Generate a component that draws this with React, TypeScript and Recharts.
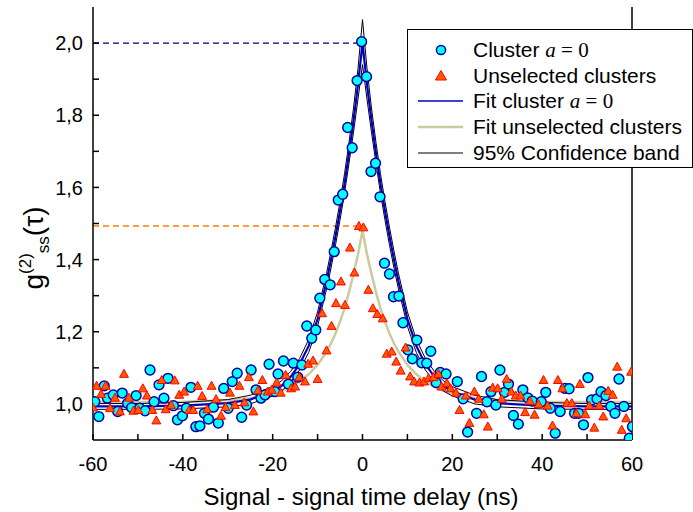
import { ComposedChart, Line, Scatter, XAxis, YAxis, ReferenceLine } from 'recharts'

// cluster a = 0 (circles), delay in ns and g2 value
const clusterT = [
  -59.6, -58.7, -57.5, -56.8, -55.5, -54.5, -53.5, -52.3, -51.4, -50.4, -49.6, -48.4, -47.3, -46.4, -45.3, -44.2,
  -43.3, -42.1, -41.2, -40.1, -39.2, -38.2, -37.1, -36.2, -35.2, -34.3, -33.2, -32.1, -30.9, -29.9, -29.0, -27.9,
  -26.9, -25.8, -24.8, -23.7, -22.6, -21.7, -20.8, -19.5, -18.8, -17.6, -16.5, -15.4, -14.4, -13.5, -12.4, -11.3,
  -10.4, -9.5, -8.4, -7.2, -6.3, -5.4, -4.4, -3.3, -2.3, -1.2, -0.2, 0.9, 1.9, 2.9, 3.9, 4.9, 6.0, 6.9, 8.1, 9.0,
  10.1, 11.1, 12.1, 13.2, 14.3, 15.2, 16.4, 17.3, 18.6, 21.1, 22.4, 23.4, 25.4, 26.5, 27.7, 28.6, 29.7, 30.6, 31.6,
  32.5, 33.6, 34.7, 35.7, 36.8, 37.8, 39.8, 40.8, 41.8, 42.9, 44.0, 45.1, 46.0, 47.2, 48.1, 49.2, 50.2, 51.0, 52.2,
  53.1, 54.2, 55.3, 56.2, 57.1, 58.2, 59.4, 60.1,
]
const clusterG = [
  1.006, 0.965, 1.05, 1.016, 1.025, 0.979, 1.03, 1.002, 0.99, 1.023, 0.988, 0.981, 1.094, 1.006, 1.053, 1.016,
  1.071, 0.995, 0.956, 0.967, 0.988, 1.046, 0.937, 0.939, 0.974, 0.958, 0.991, 0.947, 1.043, 0.988, 1.062, 1.085,
  0.963, 0.997, 1.094, 1.039, 1.016, 1.025, 1.11, 1.034, 1.083, 1.119, 1.055, 1.113, 1.074, 1.108, 1.216, 1.182,
  1.205, 1.293, 1.345, 1.33, 1.422, 1.565, 1.581, 1.766, 1.71, 1.896, 2.004, 1.907, 1.644, 1.667, 1.574, 1.39, 1.36,
  1.297, 1.299, 1.225, 1.15, 1.125, 1.177, 1.114, 1.113, 1.146, 1.059, 1.087, 1.083, 1.062, 1.014, 0.922, 0.974,
  1.076, 1.006, 1.034, 0.997, 1.094, 1.032, 1.055, 0.968, 0.944, 1.039, 1.017, 1.008, 1.006, 1.032, 0.988, 0.919,
  0.979, 1.043, 1.042, 0.974, 0.974, 0.942, 1.073, 1.011, 1.014, 1.034, 1.023, 0.993, 0.974, 1.069, 0.993, 0.905,
  0.937,
]

// unselected clusters (triangles)
const unselT = [
  -60.0, -59.2, -58.2, -57.2, -56.2, -55.1, -54.0, -53.1, -52.0, -51.0, -49.9, -48.9, -48.0, -46.8, -45.9, -44.7,
  -43.8, -42.6, -41.8, -40.8, -39.7, -38.6, -37.7, -36.7, -35.7, -34.6, -33.6, -32.6, -31.5, -30.5, -29.5, -28.4,
  -27.4, -26.3, -25.3, -24.3, -23.3, -22.3, -21.1, -20.2, -19.1, -18.2, -17.1, -15.9, -15.0, -14.1, -12.8, -12.1,
  -11.0, -10.0, -9.0, -8.0, -6.9, -5.9, -4.8, -3.9, -2.8, -1.8, -0.8, 0.2, 1.3, 2.3, 3.3, 4.5, 5.4, 6.5, 7.5, 8.5,
  9.6, 10.6, 11.5, 12.7, 13.7, 14.7, 15.8, 16.9, 17.6, 18.8, 19.6, 20.8, 21.6, 23.0, 23.8, 24.9, 25.9, 27.0, 27.9,
  29.0, 30.1, 31.0, 32.1, 33.1, 34.1, 35.2, 36.2, 37.3, 38.3, 39.2, 40.3, 41.2, 42.3, 43.5, 44.5, 45.5, 46.6, 47.6,
  48.4, 49.6, 50.5, 51.6, 52.7, 53.6, 54.7, 55.7, 56.7, 57.7, 58.7, 59.8,
]
const unselG = [
  0.99, 1.05, 1.027, 1.05, 0.988, 1.017, 0.979, 1.083, 1.017, 0.981, 0.983, 1.043, 1.023, 0.983, 0.954, 1.066,
  0.985, 0.997, 1.065, 1.025, 1.034, 0.983, 0.983, 1.05, 1.022, 0.985, 1.05, 1.013, 0.967, 0.991, 1.031, 0.997,
  1.05, 1.004, 1.074, 0.979, 1.037, 1.066, 1.034, 1.039, 1.059, 1.031, 1.08, 1.043, 1.048, 1.074, 1.062, 1.111,
  1.12, 1.069, 1.251, 1.148, 1.216, 1.279, 1.339, 1.274, 1.433, 1.364, 1.493, 1.489, 1.316, 1.265, 1.249, 1.237,
  1.139, 1.145, 1.117, 1.092, 1.156, 1.076, 1.062, 1.059, 1.062, 1.071, 1.074, 1.083, 1.048, 1.057, 1.043, 1.031,
  0.983, 1.023, 0.947, 1.034, 1.014, 0.971, 0.937, 1.045, 1.043, 1.014, 1.069, 1.034, 1.023, 1.023, 0.977, 1.008,
  0.97, 0.999, 1.066, 0.995, 0.94, 1.066, 1.043, 1.002, 1.002, 0.974, 1.055, 0.971, 0.995, 0.934, 0.995, 0.965,
  1.036, 1.025, 1.103, 0.928, 0.96, 1.089,
]

// fit curves
const fitT = [
  -60, -50, -40, -30, -25, -20, -18, -16, -14, -12, -10, -8, -7, -6, -5, -4, -3, -2, -1, 0,
  1, 2, 3, 4, 5, 6, 7, 8, 10, 12, 14, 16, 18, 20, 25, 30, 40, 50, 60,
]
const fitCluster = [
  0.993, 0.993, 0.995, 1.002, 1.012, 1.035, 1.05, 1.075, 1.11, 1.16, 1.235, 1.34, 1.4, 1.465, 1.535, 1.61, 1.695,
  1.785, 1.885, 2.0, 1.885, 1.785, 1.695, 1.61, 1.535, 1.465, 1.4, 1.34, 1.235, 1.16, 1.11, 1.075, 1.05, 1.035,
  1.012, 1.002, 0.995, 0.993, 0.993,
]
const bandHi = [
  1.001, 1.001, 1.004, 1.012, 1.024, 1.048, 1.064, 1.09, 1.126, 1.178, 1.255, 1.362, 1.424, 1.49, 1.561, 1.638,
  1.725, 1.82, 1.93, 2.065, 1.93, 1.82, 1.725, 1.638, 1.561, 1.49, 1.424, 1.362, 1.255, 1.178, 1.126, 1.09, 1.064,
  1.048, 1.024, 1.012, 1.004, 1.001, 1.001,
]
const bandLo = [
  0.985, 0.985, 0.986, 0.992, 1.0, 1.022, 1.036, 1.06, 1.094, 1.142, 1.215, 1.319, 1.377, 1.441, 1.51, 1.584, 1.667,
  1.753, 1.845, 1.94, 1.845, 1.753, 1.667, 1.584, 1.51, 1.441, 1.377, 1.319, 1.215, 1.142, 1.094, 1.06, 1.036,
  1.022, 1.0, 0.992, 0.986, 0.985, 0.985,
]
const fitUnsel = [
  1.005, 1.005, 1.006, 1.01, 1.016, 1.028, 1.036, 1.047, 1.062, 1.082, 1.108, 1.145, 1.168, 1.195, 1.228, 1.265,
  1.31, 1.36, 1.415, 1.48, 1.415, 1.36, 1.31, 1.265, 1.228, 1.195, 1.168, 1.145, 1.108, 1.082, 1.062, 1.047, 1.036,
  1.028, 1.016, 1.01, 1.006, 1.005, 1.005,
]

const peakCluster = 2.0
const peakUnsel = 1.493

const xTicks = [-60, -50, -40, -30, -20, -10, 0, 10, 20, 30, 40, 50, 60]
const yTicks = [1.0, 1.1, 1.2, 1.3, 1.4, 1.5, 1.6, 1.7, 1.8, 1.9, 2.0]

const clusterData = clusterT.map((t, i) => ({ t, g: clusterG[i] }))
const unselData = unselT.map((t, i) => ({ t, g: unselG[i] }))
const fitData = fitT.map((t, i) => ({ t, fit: fitCluster[i], hi: bandHi[i], lo: bandLo[i], un: fitUnsel[i] }))

const SANS = '"Liberation Sans", Arial, sans-serif'
const SERIF = '"Liberation Serif", "Times New Roman", serif'

const CYAN = '#00ffff'
const NAVY = '#0000a0'
const BLUE = '#0000c0'
const OLIVE = '#cbcba0'
const TRI_FILL = '#ff5a00'
const TRI_EDGE = '#ff0000'

const Dot = (p: any) => <circle cx={p.cx} cy={p.cy} r={4.9} fill={CYAN} stroke={NAVY} strokeWidth={1.5} />

const Tri = (p: any) => (
  <polygon
    points={`${p.cx},${p.cy - 4.6} ${p.cx - 4.4},${p.cy + 3.4} ${p.cx + 4.4},${p.cy + 3.4}`}
    fill={TRI_FILL}
    stroke={TRI_EDGE}
    strokeWidth={1}
  />
)

const XTitle = () => (
  <text x={361} y={505} textAnchor="middle" fontFamily={SANS} fontSize={24} fill="#000">
    Signal - signal time delay (ns)
  </text>
)

const YTitle = () => (
  <text transform="translate(43, 248) rotate(-90)" textAnchor="middle" fontFamily={SANS} fontSize={28} fill="#000">
    <tspan>g</tspan>
    <tspan fontSize={17} dy={-12}>(2)</tspan>
    <tspan fontSize={17} dy={18}>ss</tspan>
    <tspan dy={-6}>(τ)</tspan>
  </text>
)

const fmtY = (v: number) => (Math.round(v * 10) % 2 === 0 ? v.toFixed(1).replace('.', ',') : '')
const fmtX = (v: number) => (v % 20 === 0 ? String(v) : '')

const Aeq0 = () => (
  <span style={{ fontFamily: SERIF }}>
    <i>a</i> = 0
  </span>
)

const legendRows = [
  { kind: 'dot', label: <>Cluster <Aeq0 /></> },
  { kind: 'tri', label: <>Unselected clusters</> },
  { kind: 'blue', label: <>Fit cluster <Aeq0 /></> },
  { kind: 'olive', label: <>Fit unselected clusters</> },
  { kind: 'band', label: <>95% Confidence band</> },
]

function LegendMark({ kind }: { kind: string }) {
  return (
    <svg width={56} height={24} style={{ position: 'absolute', left: 0, top: 0 }}>
      {kind === 'dot' && <circle cx={33} cy={12} r={4.6} fill={CYAN} stroke={NAVY} strokeWidth={1.5} />}
      {kind === 'tri' && <polygon points="33,6.5 27.5,16 38.5,16" fill={TRI_FILL} stroke={TRI_EDGE} strokeWidth={1} />}
      {kind === 'blue' && <line x1={10} x2={55} y1={12} y2={12} stroke={BLUE} strokeWidth={1.5} />}
      {kind === 'olive' && <line x1={10} x2={55} y1={12} y2={12} stroke={OLIVE} strokeWidth={2.5} />}
      {kind === 'band' && <line x1={10} x2={55} y1={12} y2={12} stroke="#555" strokeWidth={1.5} />}
    </svg>
  )
}

export default function App() {
  return (
    <div style={{ position: 'absolute', left: 0, top: 0, width: 693, height: 512, background: '#fff' }}>
      <ComposedChart width={693} height={512} margin={{ top: 7, right: 51, bottom: 0, left: 0 }}>
        <XAxis
          dataKey="t"
          type="number"
          domain={[-60, 60]}
          ticks={xTicks}
          interval={0}
          allowDataOverflow
          height={72}
          tickSize={-6}
          tickMargin={23}
          tickFormatter={fmtX}
          axisLine={{ stroke: '#000', strokeWidth: 1.5 }}
          tickLine={{ stroke: '#000', strokeWidth: 1.5 }}
          tick={{ fill: '#000', fontSize: 20, fontFamily: SANS }}
          label={<XTitle />}
        />
        <YAxis
          yAxisId="l"
          type="number"
          domain={[0.9, 2.1]}
          ticks={yTicks}
          interval={0}
          allowDataOverflow
          width={93}
          tickSize={-6}
          tickMargin={16}
          tickFormatter={fmtY}
          axisLine={{ stroke: '#000', strokeWidth: 1.5 }}
          tickLine={{ stroke: '#000', strokeWidth: 1.5 }}
          tick={{ fill: '#000', fontSize: 20, fontFamily: SANS }}
          label={<YTitle />}
        />
        <YAxis
          yAxisId="r"
          orientation="right"
          type="number"
          domain={[0.9, 2.1]}
          ticks={yTicks}
          interval={0}
          width={10}
          tickSize={-6}
          tickFormatter={() => ''}
          axisLine={{ stroke: '#000', strokeWidth: 1.5 }}
          tickLine={{ stroke: '#000', strokeWidth: 1.5 }}
        />
        <ReferenceLine
          yAxisId="l"
          segment={[{ x: -60, y: peakCluster }, { x: -1, y: peakCluster }]}
          stroke="#000080"
          strokeDasharray="6 4"
          strokeWidth={1.4}
        />
        <ReferenceLine
          yAxisId="l"
          segment={[{ x: -60, y: peakUnsel }, { x: -1, y: peakUnsel }]}
          stroke="#ff7f00"
          strokeDasharray="6 4"
          strokeWidth={1.4}
        />
        <Scatter yAxisId="l" data={clusterData} dataKey="g" shape={Dot} isAnimationActive={false} />
        <Line yAxisId="l" data={fitData} dataKey="un" type="linear" stroke={OLIVE} strokeWidth={2.5} dot={false} isAnimationActive={false} />
        <Line yAxisId="l" data={fitData} dataKey="hi" type="linear" stroke="#000" strokeWidth={1} dot={false} isAnimationActive={false} />
        <Line yAxisId="l" data={fitData} dataKey="lo" type="linear" stroke="#000" strokeWidth={1} dot={false} isAnimationActive={false} />
        <Line yAxisId="l" data={fitData} dataKey="fit" type="linear" stroke={BLUE} strokeWidth={2.2} dot={false} isAnimationActive={false} />
        <Scatter yAxisId="l" data={unselData} dataKey="g" shape={Tri} isAnimationActive={false} />
      </ComposedChart>
      <div
        style={{
          position: 'absolute',
          left: 407,
          top: 29,
          width: 284,
          height: 137,
          border: '1px solid #000',
          background: '#fff',
          fontFamily: SANS,
          fontSize: 21,
          color: '#000',
        }}
      >
        {legendRows.map((r, i) => (
          <div key={i} style={{ position: 'absolute', left: 0, top: 8 + i * 25.7, height: 24, width: 284 }}>
            <LegendMark kind={r.kind} />
            <span style={{ position: 'absolute', left: 65, top: 0, lineHeight: '24px', whiteSpace: 'nowrap' }}>{r.label}</span>
          </div>
        ))}
      </div>
    </div>
  )
}
